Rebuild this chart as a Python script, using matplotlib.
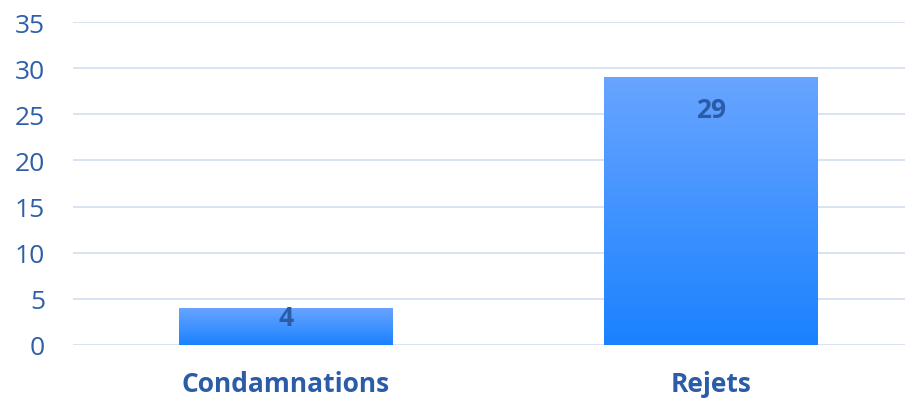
import matplotlib.pyplot as plt
import numpy as np
from matplotlib.colors import LinearSegmentedColormap

# donnees
categories = ['Condamnations', 'Rejets']
valeurs = [4, 29]
yticks = [0, 5, 10, 15, 20, 25, 30, 35]

plt.rcParams['font.family'] = ['Open Sans', 'DejaVu Sans']

fig = plt.figure(figsize=(9.08, 4.02), dpi=100)
ax = fig.add_axes([73/908, 1-346/402, (905-73)/908, (346-23)/402])

x = np.arange(len(categories))
larg = 0.503
bars = ax.bar(x, valeurs, width=larg, color='none', zorder=3)

# degrade vertical dans chaque barre
cmap = LinearSegmentedColormap.from_list('bleu', ['#1a82ff', '#68a4ff'])
grad = np.linspace(0, 1, 256).reshape(-1, 1)
for b in bars:
    x0, y0 = b.get_x(), b.get_y()
    w, h = b.get_width(), b.get_height()
    im = ax.imshow(grad, cmap=cmap, origin='lower', aspect='auto',
                   extent=[x0, x0 + w, y0, y0 + h], zorder=3)
    im.set_clip_path(b)

# etiquettes des valeurs
pos_lab = [3.0, 25.5]
for xi, v, yl in zip(x, valeurs, pos_lab):
    ax.text(xi, yl, str(v), ha='center', va='center', fontsize=19,
            fontweight='bold', color='#2a5ca8', zorder=4)

ax.set_xlim(-0.501, 1.456)
ax.set_ylim(0, 35)
ax.set_yticks(yticks)
ax.set_xticks(x)
ax.set_xticklabels(categories, fontsize=19, fontweight='bold', color='#2a5ca8')
ax.tick_params(axis='y', labelsize=19, labelcolor='#2e5fa8', length=0, pad=20)
ax.tick_params(axis='x', length=0, pad=18)
ax.grid(axis='y', color='#d6e1f3', linewidth=1.3, zorder=0)
ax.set_axisbelow(True)
for s in ax.spines.values():
    s.set_visible(False)

fig.savefig('out.png', dpi=100)
